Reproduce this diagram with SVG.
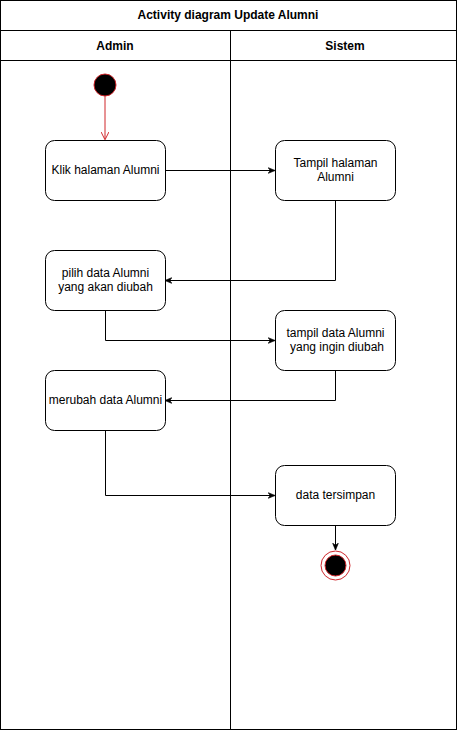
<svg xmlns="http://www.w3.org/2000/svg" width="458" height="731" viewBox="0 0 458 731">
<defs>
<style>
.t{font-family:"Liberation Sans",Arial,sans-serif;font-size:12px;fill:#000;text-anchor:middle}
.b{font-weight:bold}
.box{fill:#fff;stroke:#000;stroke-width:1}
.ln{fill:none;stroke:#000;stroke-width:1}
</style>
<marker id="ah" viewBox="0 0 10 10" refX="9" refY="5" markerWidth="7" markerHeight="7" orient="auto" markerUnits="userSpaceOnUse">
<path d="M0,1 L10,5 L0,9 L3,5 Z" fill="#000" stroke="#000"/>
</marker>
<marker id="ao" viewBox="0 0 10 10" refX="9" refY="5" markerWidth="8" markerHeight="8" orient="auto" markerUnits="userSpaceOnUse">
<path d="M0,0 L10,5 L0,10" fill="none" stroke="#d0262b" stroke-width="1.2"/>
</marker>
</defs>
<rect x="0" y="0" width="458" height="731" fill="#fff"/>
<g id="pool">
<rect x="0.5" y="0.5" width="456" height="729" class="ln"/>
<line x1="0.5" y1="30.5" x2="456.5" y2="30.5" class="ln"/>
<line x1="0.5" y1="60.5" x2="456.5" y2="60.5" class="ln"/>
<line x1="230.5" y1="30.5" x2="230.5" y2="729.5" class="ln"/>
<text x="228" y="19" class="t b">Activity diagram Update Alumni</text>
<text x="115" y="50" class="t b">Admin</text>
<text x="345" y="50" class="t b">Sistem</text>
</g>
<g id="connectors">
<line x1="105" y1="96" x2="105" y2="139" fill="none" stroke="#d0262b" stroke-width="1" marker-end="url(#ao)"/>
<path d="M165.5,170.5 L274.5,170.5" class="ln" marker-end="url(#ah)"/>
<path d="M335.5,200.5 L335.5,280.5 L165.5,280.5" class="ln" marker-end="url(#ah)"/>
<path d="M105.5,310.5 L105.5,340.5 L274.5,340.5" class="ln" marker-end="url(#ah)"/>
<path d="M335.5,370.5 L335.5,400.5 L165.5,400.5" class="ln" marker-end="url(#ah)"/>
<path d="M105.5,430.5 L105.5,495.5 L274.5,495.5" class="ln" marker-end="url(#ah)"/>
<path d="M335.5,525.5 L335.5,549.5" class="ln" marker-end="url(#ah)"/>
</g>
<g id="start"><circle cx="105" cy="85" r="11" fill="#000" stroke="#d0262b" stroke-width="1"/></g>
<g id="n1"><rect x="45.5" y="140.5" width="120" height="60" rx="9" class="box"/><text x="105.5" y="174" class="t">Klik halaman Alumni</text></g>
<g id="n2"><rect x="275.5" y="140.5" width="120" height="60" rx="9" class="box"/><text x="335.5" y="167" class="t">Tampil halaman</text><text x="335.5" y="181" class="t">Alumni</text></g>
<g id="n3"><rect x="45.5" y="250.5" width="120" height="60" rx="9" class="box"/><text x="105.5" y="277" class="t">pilih data Alumni</text><text x="105.5" y="291" class="t">yang akan diubah</text></g>
<g id="n4"><rect x="275.5" y="310.5" width="120" height="60" rx="9" class="box"/><text x="335.5" y="337" class="t">tampil data Alumni</text><text x="337" y="351" class="t">yang ingin diubah</text></g>
<g id="n5"><rect x="45.5" y="370.5" width="120" height="60" rx="9" class="box"/><text x="105.5" y="404" class="t">merubah data Alumni</text></g>
<g id="n6"><rect x="275.5" y="465.5" width="120" height="60" rx="9" class="box"/><text x="335.5" y="499" class="t">data tersimpan</text></g>
<g id="end"><circle cx="335.5" cy="565.5" r="14.5" fill="#fff" stroke="#d0262b" stroke-width="1"/><circle cx="335.5" cy="565.5" r="10.5" fill="#000" stroke="#d0262b" stroke-width="1"/></g>
</svg>
